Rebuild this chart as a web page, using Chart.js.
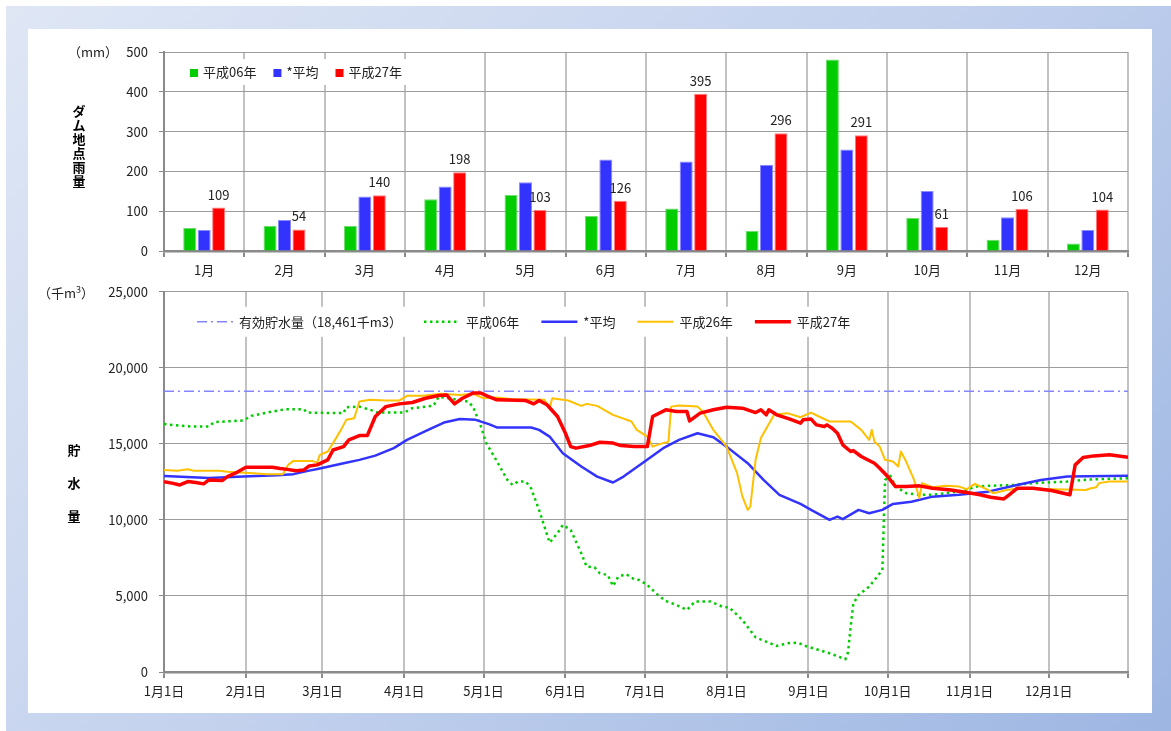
<!DOCTYPE html>
<html lang="ja">
<head>
<meta charset="utf-8">
<title>ダム貯水量・雨量</title>
<script src="https://cdn.jsdelivr.net/npm/chart.js@4.4.1/dist/chart.umd.min.js"></script>
<style>
  html, body { margin: 0; padding: 0; background: #fff; }
  body { width: 1171px; height: 731px; position: relative; overflow: hidden;
         font-family: "Noto Sans CJK JP", "Noto Sans", sans-serif; color: #111; }
  #frame { position: absolute; left: 6px; top: 6px; right: 0; bottom: 0;
           background: linear-gradient(135deg, #dfe7f5 0%, #c3d1ed 50%, #9db6e2 100%); }
  #panel { position: absolute; left: 28px; top: 29px; width: 1124px; height: 684px; background: #fff; }
  .box { position: absolute; }
  #rainBox { left: 28px; top: 29px; width: 1124px; height: 255px; }
  #storBox { left: 28px; top: 273px; width: 1124px; height: 440px; }
  .lbl { position: absolute; font-size: 13px; line-height: 16px; white-space: nowrap; color: #222; }
  .vt { position: absolute; font-size: 13px; font-weight: bold; color: #000; text-align: center; width: 16px; }
  .vt span { display: block; }
  sup { font-size: 9px; line-height: 0; vertical-align: 5px; }
</style>
</head>
<body>
<div id="frame"></div>
<div id="panel"></div>

<div class="box" id="rainBox"><canvas id="rain" width="1124" height="255"></canvas></div>
<div class="box" id="storBox"><canvas id="stor" width="1124" height="440"></canvas></div>

<div class="lbl" style="left:68px; top:44px;">（mm）</div>
<div class="vt" style="left:71px; top:104px; line-height:14px;">
  <span>ダ</span><span>ム</span><span>地</span><span>点</span><span>雨</span><span>量</span>
</div>

<div class="lbl" style="left:38px; top:285px;">（千m<sup>3</sup>）</div>
<div class="vt" style="left:66px; top:433px; line-height:33px;">
  <span>貯</span><span>水</span><span>量</span>
</div>

<script>
// ---- monthly rainfall at the dam (mm) ----
const months = ['1月', '2月', '3月', '4月', '5月', '6月', '7月', '8月', '9月', '10月', '11月', '12月'];
const rainH06 = [58, 63, 63, 130, 141, 88, 107, 50, 481, 83, 28, 19];
const rainAvg = [53, 78, 137, 162, 173, 230, 225, 217, 255, 151, 85, 53];
const rainH27 = [109, 54, 140, 198, 103, 126, 395, 296, 291, 61, 106, 104];

// ---- storage axis: day of year (leap-year calendar) ----
const monthStartDays = [0, 31, 60, 91, 121, 152, 182, 213, 244, 274, 305, 335];
const dateLabels = ['1月1日', '2月1日', '3月1日', '4月1日', '5月1日', '6月1日',
                    '7月1日', '8月1日', '9月1日', '10月1日', '11月1日', '12月1日'];
const yearEndDay = 365;

// effective storage capacity (千m3)
const effectiveStorage = 18461;

// ---- storage series: [day of year, 千m3] ----
const storH06 = [
  [0,16300],[10,16140],[17,16140],[19,16430],[30,16540],[33,16840],[39,17060],[46,17280],
  [53,17280],[54,17060],[68,17020],[69,17410],[74,17450],[79,17190],[81,17060],[91,17060],
  [94,17350],[102,17500],[104,18100],[115,17790],[117,17450],[120,16140],[122,15050],[125,14170],
  [130,12630],[132,12300],[134,12520],[137,12520],[139,12080],[142,10660],[146,8510],[149,9130],
  [151,9670],[154,9340],[158,7810],[160,6930],[163,6890],[165,6490],[168,6380],[170,5660],
  [172,6270],[175,6430],[178,6100],[180,6050],[183,5720],[187,5070],[190,4670],[194,4410],
  [198,4080],[201,4630],[207,4630],[212,4250],[214,4250],[219,3420],[224,2280],[232,1710],
  [236,1890],[240,1930],[243,1710],[252,1230],[258,840],[259,1300],[260,3000],[261,4500],
  [263,5070],[267,5610],[271,6490],[272,6710],[273,12630],[275,12900],[277,12190],[281,11760],
  [286,11650],[291,11650],[298,11800],[304,11970],[307,12190],[312,12240],[322,12300],[329,12420],
  [342,12520],[348,12630],[354,12680],[365,12740]
];
const storAvg = [
  [0,12880],[17,12760],[30,12850],[43,12940],[49,13010],[55,13240],[59,13380],[68,13730],
  [74,13950],[80,14230],[87,14720],[92,15260],[100,15920],[106,16400],[112,16630],[118,16580],
  [123,16300],[126,16080],[139,16080],[142,15920],[146,15480],[151,14390],[158,13510],[164,12850],
  [170,12460],[174,12850],[182,13840],[189,14720],[195,15260],[202,15700],[208,15440],[213,14820],
  [221,13730],[227,12630],[233,11650],[241,11050],[245,10660],[252,10000],[255,10220],[257,10050],
  [263,10660],[267,10440],[272,10660],[276,11050],[283,11200],[291,11530],[301,11650],[312,11860],
  [323,12300],[332,12630],[342,12850],[365,12900]
];
const storH26 = [
  [0,13290],[5,13240],[9,13330],[11,13240],[21,13240],[24,13160],[34,13070],[39,13000],
  [45,13000],[47,13620],[49,13880],[56,13880],[58,13770],[59,14280],[62,14500],[64,15050],
  [67,15920],[69,16580],[72,16690],[74,17790],[78,17900],[84,17850],[89,17850],[92,18160],
  [98,18160],[105,18290],[112,18220],[117,18290],[121,18000],[126,18050],[132,17940],[144,17900],
  [146,17350],[147,18000],[153,17850],[158,17500],[160,17630],[164,17500],[170,16910],[177,16470],
  [179,15920],[183,15480],[185,14820],[188,15000],[191,15150],[192,17450],[195,17520],[202,17450],
  [204,17130],[208,15920],[213,14820],[217,13070],[219,11530],[221,10660],[222,10880],[224,13950],
  [226,15380],[231,16910],[236,17020],[241,16750],[245,17060],[248,16800],[252,16470],[260,16470],
  [264,15920],[267,15260],[268,15920],[269,15150],[271,14820],[273,13950],[276,13840],[278,13510],
  [279,14500],[281,13840],[284,12630],[286,11430],[287,12420],[291,12150],[296,12240],[301,12190],
  [304,12020],[307,12370],[312,11970],[314,11760],[319,11970],[324,12080],[337,12020],[349,11970],
  [351,12080],[353,12150],[354,12420],[358,12520],[365,12520]
];
const storH27 = [
  [0,12520],[3,12420],[6,12300],[9,12520],[12,12460],[15,12370],[17,12630],[22,12590],
  [24,12850],[27,13070],[31,13460],[41,13460],[44,13380],[46,13340],[50,13240],[53,13290],
  [55,13550],[58,13620],[62,13950],[64,14600],[68,14820],[70,15260],[74,15550],[77,15550],
  [80,16800],[84,17450],[89,17630],[94,17720],[99,18000],[104,18180],[107,18220],[110,17630],
  [113,18000],[117,18340],[120,18340],[122,18180],[126,17900],[137,17850],[140,17630],[142,17850],
  [145,17570],[149,16800],[152,15700],[154,14820],[156,14720],[161,14890],[165,15110],[170,15050],
  [173,14890],[178,14820],[183,14820],[185,16800],[190,17240],[194,17130],[198,17130],[199,16510],
  [203,17020],[208,17240],[213,17410],[219,17350],[224,17060],[226,17240],[228,16910],[229,17240],
  [232,16910],[237,16630],[241,16360],[242,16580],[245,16630],[247,16250],[250,16140],[251,16250],
  [253,16030],[255,15700],[257,14940],[260,14500],[261,14560],[264,14170],[269,13730],[271,13400],
  [274,12850],[277,12190],[281,12190],[286,12240],[291,12080],[298,11970],[304,11800],[309,11650],
  [313,11490],[318,11380],[320,11650],[323,12080],[329,12080],[336,11930],[343,11650],[345,13620],
  [348,14100],[352,14210],[358,14280],[365,14120]
];

const FONT = '"Noto Sans CJK JP", "Noto Sans", sans-serif';
Chart.defaults.font.family = FONT;
Chart.defaults.font.size = 13;
Chart.defaults.color = '#222';

const AXIS_GREY = '#8a8a8a';
const HGRID = '#9c9c9c';
const VGRID = '#c2c2c2';

const toPoints = pairs => pairs.map(([d, v]) => ({ x: d, y: v }));

// legend with square swatches, drawn on a white box inside the plot
const rainLegend = {
  id: 'rainLegend',
  afterDraw(chart) {
    const { ctx, chartArea: a } = chart;
    ctx.save();
    ctx.font = '13px ' + FONT;
    const items = chart.data.datasets.map(d => ({ text: d.label, color: d.backgroundColor, w: ctx.measureText(d.label).width }));
    const sq = 8, gapIn = 5, gapOut = 17, padX = 7;
    const total = items.reduce((s, it) => s + sq + gapIn + it.w, 0) + gapOut * (items.length - 1) + padX * 2;
    const bx = a.left + 19, cy = a.top + 20;
    ctx.fillStyle = '#fff';
    ctx.fillRect(bx, cy - 13, total, 26);
    let x = bx + padX;
    ctx.textBaseline = 'middle';
    ctx.textAlign = 'left';
    items.forEach(it => {
      ctx.fillStyle = it.color;
      ctx.fillRect(x, cy - 3, sq, sq);
      x += sq + gapIn;
      ctx.fillStyle = '#222';
      ctx.fillText(it.text, x, cy);
      x += it.w + gapOut;
    });
    ctx.restore();
  }
};

// value labels above the 平成27年 bars
const rainValues = {
  id: 'rainValues',
  afterDatasetsDraw(chart) {
    const { ctx } = chart;
    const idx = 2;
    const meta = chart.getDatasetMeta(idx);
    const values = chart.data.datasets[idx].data;
    ctx.save();
    ctx.font = '13px ' + FONT;
    ctx.fillStyle = '#222';
    ctx.textAlign = 'center';
    ctx.textBaseline = 'middle';
    meta.data.forEach((bar, i) => ctx.fillText(String(values[i]), bar.x, bar.y - 13));
    ctx.restore();
  }
};

// legend with line samples for the storage chart
const storLegend = {
  id: 'storLegend',
  afterDraw(chart) {
    const { ctx, chartArea: a } = chart;
    ctx.save();
    ctx.font = '13px ' + FONT;
    const items = chart.data.datasets.map(d => ({ ds: d, w: ctx.measureText(d.label).width }));
    const len = 36, gapIn = 6, gapOut = 22, padX = 7;
    const total = items.reduce((s, it) => s + len + gapIn + it.w, 0) + gapOut * (items.length - 1) + padX * 2;
    const bx = a.left + 26, cy = a.top + 30;
    ctx.fillStyle = '#fff';
    ctx.fillRect(bx, cy - 15, total, 30);
    let x = bx + padX;
    ctx.textBaseline = 'middle';
    ctx.textAlign = 'left';
    items.forEach(it => {
      const d = it.ds;
      ctx.beginPath();
      ctx.setLineDash(d.borderDash || []);
      ctx.lineWidth = d.borderWidth;
      ctx.strokeStyle = d.borderColor;
      ctx.moveTo(x, cy);
      ctx.lineTo(x + len, cy);
      ctx.stroke();
      ctx.setLineDash([]);
      x += len + gapIn;
      ctx.fillStyle = '#222';
      ctx.fillText(d.label, x, cy);
      x += it.w + gapOut;
    });
    ctx.restore();
  }
};

new Chart(document.getElementById('rain'), {
  type: 'bar',
  data: {
    labels: months,
    datasets: [
      { label: '平成06年', data: rainH06, backgroundColor: '#00cc00', borderColor: '#6fdc6f', borderWidth: 1 },
      { label: '*平均',    data: rainAvg, backgroundColor: '#3333ff', borderColor: '#8c8cff', borderWidth: 1 },
      { label: '平成27年', data: rainH27, backgroundColor: '#ff0000', borderColor: '#ff7c7c', borderWidth: 1 }
    ]
  },
  options: {
    responsive: false,
    animation: false,
    layout: { padding: { top: 23, right: 24, left: 0, bottom: 0 } },
    datasets: { bar: { categoryPercentage: 0.54, barPercentage: 0.9 } },
    plugins: { legend: { display: false }, tooltip: { enabled: false } },
    scales: {
      x: {
        grid: { color: VGRID, lineWidth: 2, tickLength: 6, tickColor: AXIS_GREY, offset: true },
        border: { color: AXIS_GREY, width: 2.5 },
        ticks: { padding: 5, color: '#222' },
        afterFit(s) { s.height = 33; }
      },
      y: {
        min: 0, max: 500,
        ticks: { stepSize: 100, padding: 11, color: '#222' },
        grid: { color: HGRID, lineWidth: 1, tickLength: 5, tickColor: AXIS_GREY },
        border: { color: AXIS_GREY, width: 2 },
        afterFit(s) { s.width = 136; }
      }
    }
  },
  plugins: [rainValues, rainLegend]
});

new Chart(document.getElementById('stor'), {
  type: 'line',
  data: {
    datasets: [
      { label: `有効貯水量（${effectiveStorage.toLocaleString('en-US')}千m3）`,
        data: [{ x: 0, y: effectiveStorage }, { x: yearEndDay, y: effectiveStorage }],
        borderColor: '#8585ff', borderWidth: 1.5, borderDash: [10, 4, 2, 4], order: 5 },
      { label: '平成06年', data: toPoints(storH06), borderColor: '#00cc00', borderWidth: 2.5, borderDash: [2.5, 3.5], order: 4 },
      { label: '*平均',    data: toPoints(storAvg), borderColor: '#3333ff', borderWidth: 2.5, order: 3 },
      { label: '平成26年', data: toPoints(storH26), borderColor: '#ffc000', borderWidth: 2, order: 2 },
      { label: '平成27年', data: toPoints(storH27), borderColor: '#ff0000', borderWidth: 3.5, order: 1 }
    ]
  },
  options: {
    responsive: false,
    animation: false,
    layout: { padding: { top: 8, right: 24, left: 0, bottom: 0 } },
    elements: { point: { radius: 0 }, line: { tension: 0, borderJoinStyle: 'round' } },
    plugins: { legend: { display: false }, tooltip: { enabled: false } },
    scales: {
      x: {
        type: 'linear', min: 0, max: yearEndDay,
        afterBuildTicks(s) { s.ticks = monthStartDays.concat([yearEndDay]).map(v => ({ value: v })); },
        ticks: {
          autoSkip: false, maxRotation: 0, padding: 5, color: '#222',
          callback(v) { const i = monthStartDays.indexOf(v); return i >= 0 ? dateLabels[i] : ''; }
        },
        grid: { color: VGRID, lineWidth: 2, tickLength: 6, tickColor: AXIS_GREY },
        border: { color: AXIS_GREY, width: 2.5 },
        afterFit(s) { s.height = 41; }
      },
      y: {
        min: 0, max: 25000,
        ticks: { stepSize: 5000, padding: 11, color: '#222', callback: v => v.toLocaleString('en-US') },
        grid: { color: HGRID, lineWidth: 1, tickLength: 5, tickColor: AXIS_GREY },
        border: { color: AXIS_GREY, width: 2 },
        afterFit(s) { s.width = 136; }
      }
    }
  },
  plugins: [storLegend]
});
</script>
</body>
</html>
